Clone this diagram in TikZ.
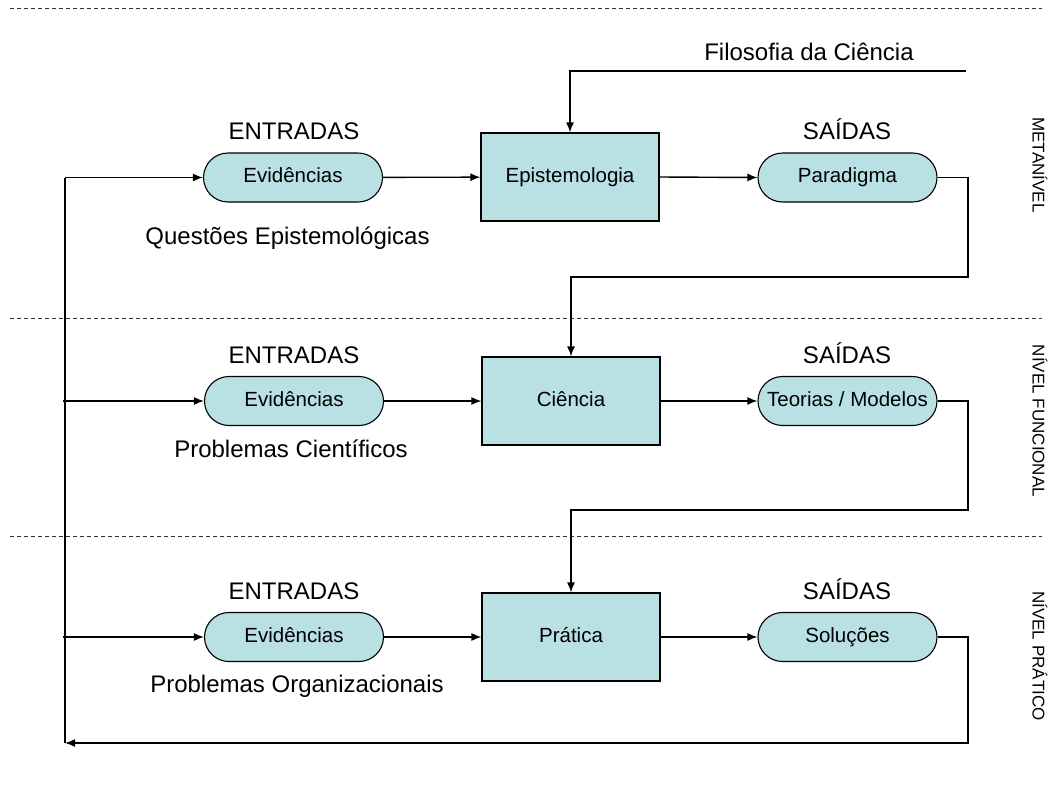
\documentclass[tikz,border=0pt]{standalone}
\usepackage{fontspec}
\setmainfont{Liberation Sans}
\usetikzlibrary{arrows.meta}
\definecolor{boxfill}{RGB}{185,224,227}
\tikzset{
  procbox/.style={draw=black, line width=1.1pt, fill=boxfill, minimum width=178pt, minimum height=88pt, inner sep=0pt, text height=15pt, text depth=4.5pt, font=\fontsize{20.5}{24}\selectfont},
  pill/.style={draw=black, line width=1.1pt, fill=boxfill, minimum width=179pt, minimum height=49pt, rounded corners=24.5pt, inner sep=0pt, text height=15pt, text depth=4.5pt, font=\fontsize{20.5}{24}\selectfont},
  biglabel/.style={inner sep=0pt, text height=17.5pt, text depth=5pt, font=\fontsize{24}{28}\selectfont},
  sidelabel/.style={inner sep=0pt, rotate=-90, font=\fontsize{17}{20}\selectfont},
  conn/.style={line width=1.4pt, -{Latex[length=10pt,width=8pt]}},
  plain/.style={line width=1.4pt},
  sep/.style={line width=0.7pt, dash pattern=on 4pt off 3pt, black!80}
}
\begin{document}
\begin{tikzpicture}[x=1pt,y=-1pt]
\useasboundingbox (0,0) rectangle (1052,790);
% separators
\draw[sep] (10,8) -- (1042,8);
\draw[sep] (10,318) -- (1042,318);
\draw[sep] (10,536) -- (1042,536);
% side labels
\node[sidelabel] (meta) at (1040,165) {METANÍVEL};
\node[sidelabel] (func) at (1040,421) {NÍVEL FUNCIONAL};
\node[sidelabel] (prat) at (1040,656) {NÍVEL PRÁTICO};
% top label
\node[biglabel] (filo) at (809,54) {Filosofia da Ciência};
\coordinate (filoR) at (966,71);
\coordinate (filoL) at (570,71);
% row 1
\node[procbox] (epi) at (570,177) {Epistemologia};
\node[pill] (ev1) at (293,177.5) {Evidências};
\node[pill] (par) at (847.5,177.5) {Paradigma};
\node[biglabel] (ent1) at (294,133) {ENTRADAS};
\node[biglabel] (sai1) at (847,133) {SAÍDAS};
\node[biglabel] (q1) at (287.5,238) {Questões Epistemológicas};
% row 2
\node[procbox] (cie) at (571,401) {Ciência};
\node[pill] (ev2) at (294,401) {Evidências};
\node[pill] (teo) at (847.5,401) {Teorias / Modelos};
\node[biglabel] (ent2) at (294,357) {ENTRADAS};
\node[biglabel] (sai2) at (847,357) {SAÍDAS};
\node[biglabel] (q2) at (291,451) {Problemas Científicos};
% row 3
\node[procbox] (pra) at (571,637) {Prática};
\node[pill] (ev3) at (294,637) {Evidências};
\node[pill] (sol) at (847.5,637) {Soluções};
\node[biglabel] (ent3) at (294,593) {ENTRADAS};
\node[biglabel] (sai3) at (847,593) {SAÍDAS};
\node[biglabel] (q3) at (297,686) {Problemas Organizacionais};
% coordinates for feedback
\coordinate (l1) at (65,177.5);
\coordinate (l2) at (63,401);
\coordinate (l3) at (63,637);
\coordinate (lb) at (65,743);
% connectors
\draw[conn] (filoR) -- (filoL) -- (epi.north);
\draw[conn] (ev1) -- (epi);
\draw[conn] (epi.east) -- (par.west);
\draw[conn] (par.east) -- (968,177.5) -- (968,277) -- (571,277) -- (cie.north);
\draw[conn] (ev2) -- (cie);
\draw[conn] (cie.east) -- (teo.west);
\draw[conn] (teo.east) -- (968,401) -- (968,510) -- (571,510) -- (pra.north);
\draw[conn] (ev3) -- (pra);
\draw[conn] (pra.east) -- (sol.west);
\draw[conn] (sol.east) -- (968,637) -- (968,743) -- (lb);
\draw[plain] (lb) -- (l1);
\draw[conn] (l1) -- (ev1.west);
\draw[conn] (l2) -- (ev2.west);
\draw[conn] (l3) -- (ev3.west);
\end{tikzpicture}
\end{document}
